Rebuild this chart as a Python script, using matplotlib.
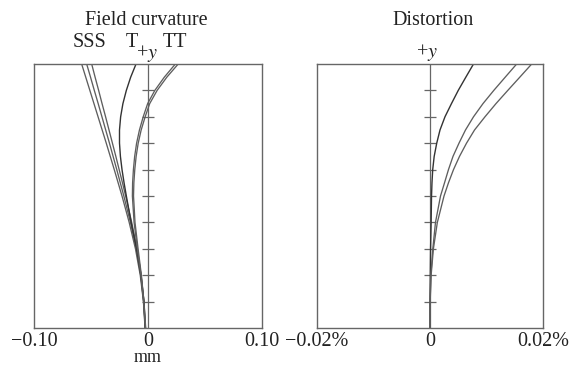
import matplotlib
matplotlib.use("Agg")
import matplotlib.pyplot as plt

plt.rcParams["font.family"] = ["Liberation Serif", "DejaVu Serif"]

# relative field height (0 = axis, 1 = full field)
field = [0, 0.1, 0.2, 0.3, 0.4, 0.5, 0.55, 0.6, 0.65, 0.7, 0.75, 0.8, 0.85, 0.9, 0.95, 1.0]

# field curvature, mm (three sagittal, three tangential)
sag_1 = [-0.0026, -0.0040, -0.0068, -0.0110, -0.0165, -0.0228, -0.0262, -0.0296,
         -0.0331, -0.0366, -0.0402, -0.0438, -0.0474, -0.0510, -0.0546, -0.0582]
sag_2 = [-0.0025, -0.0038, -0.0064, -0.0103, -0.0154, -0.0212, -0.0243, -0.0274,
         -0.0306, -0.0338, -0.0371, -0.0404, -0.0437, -0.0471, -0.0504, -0.0538]
sag_3 = [-0.0024, -0.0036, -0.0060, -0.0096, -0.0143, -0.0196, -0.0224, -0.0253,
         -0.0282, -0.0312, -0.0342, -0.0372, -0.0403, -0.0433, -0.0464, -0.0494]
tan_1 = [-0.0023, -0.0035, -0.0062, -0.0100, -0.0148, -0.0190, -0.0210, -0.0228,
         -0.0242, -0.0250, -0.0250, -0.0240, -0.0220, -0.0190, -0.0152, -0.0105]
tan_2 = [-0.0020, -0.0036, -0.0058, -0.0087, -0.0114, -0.0127, -0.0124, -0.0116,
         -0.0104, -0.0086, -0.0060, -0.0025, 0.0015, 0.0080, 0.0165, 0.0265]
tan_3 = [-0.0022, -0.0039, -0.0062, -0.0093, -0.0122, -0.0137, -0.0135, -0.0128,
         -0.0117, -0.0100, -0.0075, -0.0042, -0.0003, 0.0060, 0.0143, 0.0240]

# distortion, %
dist_1 = [0, 0, 0.00005, 0.0001, 0.0002, 0.00027, 0.00035, 0.00048,
          0.00074, 0.00119, 0.00177, 0.00265, 0.0038, 0.0050, 0.00634, 0.0077]
dist_2 = [0, 0.00002, 0.00015, 0.0005, 0.00097, 0.00186, 0.00257, 0.00327,
          0.00407, 0.00513, 0.00628, 0.0077, 0.00938, 0.01129, 0.01331, 0.01534]
dist_3 = [0, 0.00003, 0.0002, 0.0006, 0.0013, 0.00248, 0.00327, 0.00416,
          0.00522, 0.00646, 0.00788, 0.00973, 0.01168, 0.01377, 0.01589, 0.0180]

marks = [0.1, 0.2, 0.3, 0.4, 0.5, 0.6, 0.7, 0.8, 0.9]

W, H = 580, 367
fig = plt.figure(figsize=(W / 100, H / 100), dpi=100)
ax1 = fig.add_axes([34 / W, 1 - 328 / H, 228 / W, 264 / H])
ax2 = fig.add_axes([317 / W, 1 - 328 / H, 226 / W, 264 / H])

frame = "#666666"
dark = "#333333"
light = "#5e5e5e"
fs = 14.5

for ax, lim, labels in [(ax1, 0.10, ["\u22120.10", "0", "0.10"]),
                        (ax2, 0.02, ["\u22120.02%", "0", "0.02%"])]:
    ax.set_xlim(-lim, lim)
    ax.set_ylim(0, 1)
    ax.set_xticks([-lim, 0, lim])
    ax.set_xticklabels(labels, fontsize=fs, color="#222222")
    ax.set_yticks([])
    ax.tick_params(axis="x", length=0, pad=3)
    for s in ax.spines.values():
        s.set_color(frame)
        s.set_linewidth(1.0)
    ax.axvline(0, color=frame, lw=0.9)
    ax.plot([0] * len(marks), marks, ls="none", marker="_", ms=9, mew=0.9, color=frame)

for xs in (sag_1, sag_2, sag_3):
    ax1.plot(xs, field, color=light, lw=0.95)
ax1.plot(tan_1, field, color=dark, lw=1.0)
ax1.plot(tan_2, field, color=light, lw=0.95)
ax1.plot(tan_3, field, color=light, lw=0.95)
ax1.set_xlabel("mm", fontsize=13, labelpad=-1.5, color="#222222")

ax2.plot(dist_1, field, color=dark, lw=1.0)
ax2.plot(dist_2, field, color=light, lw=0.95)
ax2.plot(dist_3, field, color=light, lw=0.95)

def put(x, y, s, **kw):
    fig.text(x / W, 1 - y / H, s, fontsize=fs, ha="center", va="baseline", color="#222222", **kw)

put(146, 25, "Field curvature")
put(433, 25, "Distortion")
put(90, 47, "SSS")
put(132, 47, "T")
put(175, 47, "TT")
put(147, 58, "+$\\mathit{y}$", math_fontfamily="stix")
put(427, 57, "+$\\mathit{y}$", math_fontfamily="stix")

fig.savefig("out.png", dpi=100)
